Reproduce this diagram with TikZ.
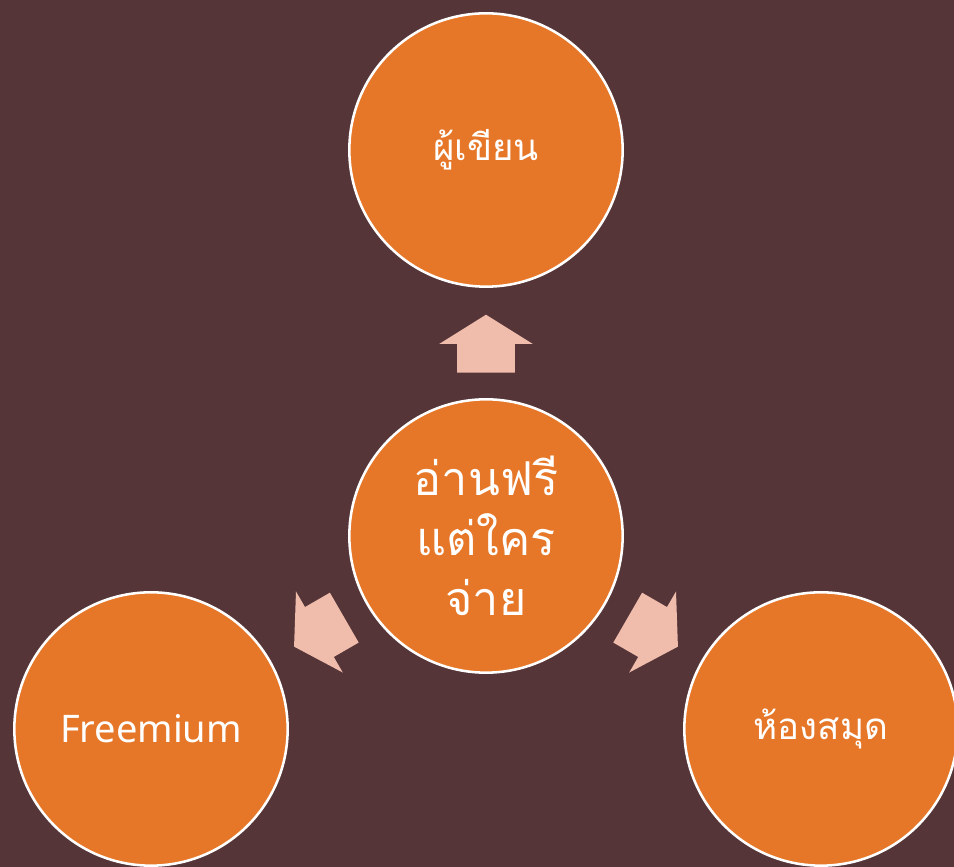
\documentclass[tikz,border=0pt]{standalone}
\usepackage{fontspec}
\setmainfont{Noto Sans}
\newfontfamily\thaifont[Script=Thai]{Loma}
\usetikzlibrary{shapes.arrows,calc}

\definecolor{bgbrown}{RGB}{85,53,56}
\definecolor{hubOrange}{RGB}{230,118,40}
\definecolor{arrowPink}{RGB}{240,189,173}

\tikzset{
  topic/.style={circle, fill=hubOrange, draw=white, line width=1.9pt,
    minimum size=205pt, inner sep=0pt, text=white, font=\thaifont\fontsize{27.5}{32}\selectfont},
  hubtopic/.style={topic, align=center, font=\thaifont\fontsize{35}{45}\selectfont},
  blockarrow/.style={single arrow, fill=arrowPink, draw=none, inner xsep=0pt,
    inner ysep=21.4pt, minimum width=0pt, minimum height=43.5pt,
    single arrow head extend=13.5pt, single arrow tip angle=116, anchor=tail}
}

\begin{document}
\begin{tikzpicture}[x=0.75pt, y=0.75pt]
    % background
    \path[use as bounding box, fill=bgbrown] (0,0) rectangle (954,867);

    % circles
    \node[hubtopic] (hub) at (486,331) {อ่านฟรี\\แต่ใคร\\จ่าย};
    \node[topic] (author) at (486,717) {ผู้เขียน};
    \node[topic, font=\fontsize{28.5}{32}\selectfont] (freemium) at (151,138) {Freemium};
    \node[topic] (library) at (821,138) {ห้องสมุด};

    % block arrows
    \node[blockarrow, rotate=90] (toAuthor) at ($(hub)!0.4223!(author)$) {};
    \node[blockarrow, rotate=210] (toFreemium) at ($(hub)!0.4223!(freemium)$) {};
    \node[blockarrow, rotate=330] (toLibrary) at ($(hub)!0.4223!(library)$) {};
\end{tikzpicture}
\end{document}
